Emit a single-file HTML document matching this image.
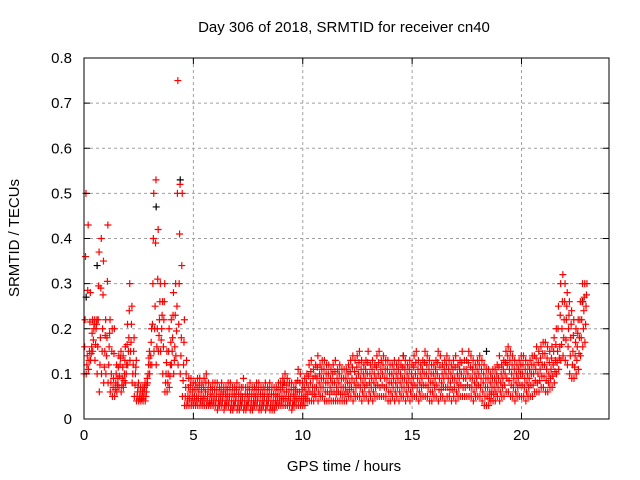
<!DOCTYPE html>
<html><head><meta charset="utf-8"><style>
body{margin:0;background:#fff;}
svg{display:block;font-family:"Liberation Sans",sans-serif;}
</style></head><body>
<svg id="chart" width="640" height="480">
<text x="344" y="32" text-anchor="middle" font-size="15">Day 306 of 2018, SRMTID for receiver cn40</text>
<text x="344" y="471" text-anchor="middle" font-size="15">GPS time / hours</text>
<text transform="translate(19,238) rotate(-90)" text-anchor="middle" font-size="15">SRMTID / TECUs</text>
<g id="grid"></g><g id="marks"></g><g id="axes"></g>
</svg>
<script>
const xTicks=[0,5,10,15,20];
const yTicks=[0,0.1,0.2,0.3,0.4,0.5,0.6,0.7,0.8];
const yTickLabels=["0","0.1","0.2","0.3","0.4","0.5","0.6","0.7","0.8"];
const tStart=0, tStep=0.1;
const midVals=[0.22,0.14,0.15,0.16,0.2,0.2,0.22,0.18,0.2,0.15,
0.18,0.16,0.1,0.09,0.08,0.09,0.12,0.09,0.1,0.12,
0.18,0.17,0.12,0.1,0.06,0.05,0.05,0.06,0.06,0.12,
0.14,0.3,0.25,0.2,0.22,0.2,0.22,0.1,0.1,0.12,
0.18,0.16,0.25,0.3,0.18,0.12,0.07,0.05,0.06,0.05,
0.05,0.05,0.06,0.05,0.05,0.06,0.05,0.04,0.05,0.05,
0.05,0.04,0.05,0.05,0.04,0.05,0.05,0.04,0.04,0.05,
0.04,0.04,0.05,0.04,0.04,0.05,0.04,0.04,0.05,0.05,
0.04,0.04,0.05,0.04,0.05,0.04,0.04,0.04,0.05,0.05,
0.05,0.06,0.06,0.05,0.05,0.04,0.05,0.06,0.06,0.05,
0.05,0.06,0.07,0.08,0.07,0.07,0.09,0.08,0.09,0.09,
0.08,0.08,0.07,0.08,0.08,0.07,0.08,0.07,0.07,0.07,
0.08,0.08,0.09,0.08,0.09,0.1,0.09,0.08,0.09,0.1,
0.08,0.09,0.08,0.09,0.1,0.09,0.1,0.09,0.09,0.08,
0.08,0.09,0.08,0.09,0.08,0.09,0.09,0.08,0.09,0.08,
0.09,0.1,0.09,0.08,0.09,0.1,0.1,0.09,0.08,0.08,
0.09,0.1,0.09,0.08,0.09,0.1,0.09,0.08,0.09,0.09,
0.08,0.09,0.1,0.09,0.09,0.1,0.09,0.09,0.08,0.09,
0.1,0.09,0.08,0.07,0.07,0.06,0.07,0.07,0.08,0.09,
0.08,0.09,0.1,0.12,0.11,0.1,0.09,0.08,0.09,0.1,
0.1,0.09,0.08,0.09,0.1,0.1,0.11,0.1,0.11,0.12,
0.12,0.11,0.1,0.11,0.12,0.13,0.15,0.16,0.2,0.22,
0.22,0.2,0.18,0.15,0.14,0.16,0.18,0.22,0.24,0.25];
const hiVals=[0.5,0.43,0.28,0.22,0.22,0.22,0.37,0.4,0.35,0.22,
0.43,0.22,0.2,0.2,0.12,0.14,0.15,0.14,0.16,0.21,
0.3,0.25,0.18,0.13,0.08,0.07,0.07,0.08,0.09,0.15,
0.2,0.5,0.53,0.42,0.3,0.26,0.3,0.15,0.2,0.22,
0.28,0.3,0.75,0.52,0.5,0.22,0.13,0.09,0.09,0.08,
0.08,0.09,0.09,0.08,0.09,0.1,0.08,0.07,0.08,0.08,
0.08,0.07,0.08,0.07,0.07,0.08,0.08,0.07,0.07,0.08,
0.07,0.07,0.09,0.07,0.07,0.08,0.07,0.07,0.08,0.08,
0.07,0.07,0.08,0.07,0.08,0.07,0.07,0.07,0.08,0.08,
0.09,0.1,0.09,0.08,0.08,0.07,0.08,0.11,0.1,0.08,
0.09,0.1,0.12,0.13,0.11,0.12,0.14,0.12,0.13,0.13,
0.12,0.12,0.11,0.12,0.13,0.11,0.12,0.11,0.11,0.11,
0.12,0.13,0.14,0.13,0.14,0.15,0.13,0.12,0.13,0.15,
0.12,0.13,0.12,0.14,0.15,0.13,0.14,0.13,0.13,0.12,
0.12,0.13,0.12,0.13,0.12,0.14,0.13,0.12,0.13,0.12,
0.14,0.15,0.13,0.12,0.13,0.15,0.14,0.13,0.12,0.12,
0.13,0.15,0.14,0.12,0.13,0.14,0.13,0.12,0.13,0.14,
0.12,0.13,0.15,0.13,0.13,0.15,0.14,0.13,0.12,0.13,
0.14,0.13,0.12,0.11,0.11,0.1,0.11,0.11,0.12,0.14,
0.12,0.13,0.15,0.16,0.15,0.14,0.13,0.12,0.13,0.14,
0.14,0.13,0.12,0.13,0.14,0.14,0.16,0.15,0.16,0.17,
0.17,0.16,0.15,0.16,0.18,0.2,0.25,0.3,0.32,0.3,
0.28,0.26,0.24,0.22,0.2,0.22,0.26,0.3,0.3,0.3];
const loVals=[0.1,0.1,0.11,0.13,0.15,0.13,0.1,0.06,0.1,0.08,
0.1,0.08,0.06,0.05,0.05,0.06,0.07,0.06,0.07,0.08,
0.12,0.13,0.08,0.05,0.04,0.04,0.04,0.04,0.04,0.08,
0.1,0.12,0.15,0.12,0.15,0.15,0.1,0.06,0.06,0.07,
0.12,0.1,0.14,0.12,0.1,0.05,0.03,0.03,0.03,0.03,
0.03,0.03,0.03,0.03,0.03,0.03,0.03,0.03,0.03,0.03,
0.03,0.02,0.03,0.03,0.02,0.03,0.03,0.02,0.02,0.03,
0.02,0.02,0.03,0.02,0.02,0.03,0.02,0.02,0.03,0.03,
0.02,0.02,0.03,0.02,0.03,0.02,0.02,0.02,0.03,0.03,
0.03,0.03,0.03,0.03,0.03,0.02,0.03,0.03,0.03,0.03,
0.03,0.03,0.04,0.04,0.04,0.04,0.05,0.04,0.05,0.05,
0.04,0.04,0.04,0.04,0.04,0.04,0.04,0.04,0.04,0.04,
0.04,0.05,0.05,0.04,0.05,0.05,0.05,0.04,0.05,0.05,
0.04,0.05,0.04,0.05,0.05,0.05,0.05,0.05,0.05,0.04,
0.04,0.05,0.04,0.05,0.04,0.05,0.05,0.04,0.05,0.04,
0.05,0.05,0.05,0.04,0.05,0.05,0.05,0.05,0.04,0.04,
0.05,0.05,0.04,0.05,0.05,0.04,0.05,0.05,0.04,0.05,
0.04,0.05,0.05,0.05,0.05,0.05,0.05,0.05,0.04,0.05,
0.05,0.05,0.04,0.03,0.03,0.03,0.04,0.04,0.04,0.05,
0.04,0.05,0.05,0.06,0.06,0.05,0.05,0.04,0.05,0.05,
0.05,0.05,0.04,0.05,0.05,0.05,0.06,0.06,0.06,0.07,
0.07,0.06,0.06,0.07,0.07,0.08,0.1,0.11,0.13,0.14,
0.13,0.12,0.1,0.09,0.09,0.1,0.11,0.14,0.16,0.17];
const blackTimes=[0.1,0.6,3.3,4.4,9.1,14.6,18.4,22.8];
const blackVals=[0.27,0.34,0.47,0.53,0.08,0.14,0.15,0.26];

const X0=84,X1=609,Y0=419,Y1=58,XMAX=24,YMAX=0.8;
const xs=t=>X0+(t/XMAX)*(X1-X0);
const ys=v=>Y0-(v/YMAX)*(Y0-Y1);
const NS="http://www.w3.org/2000/svg";
function mk(tag,attrs,parent){const e=document.createElementNS(NS,tag);for(const k in attrs)e.setAttribute(k,attrs[k]);parent.appendChild(e);return e;}
const grid=document.getElementById('grid'),axes=document.getElementById('axes'),marks=document.getElementById('marks');
xTicks.forEach(t=>{
  const x=xs(t);
  if(t>0){const g=mk('line',{x1:x,x2:x,y1:Y1,y2:Y0,stroke:'#a0a0a0','stroke-dasharray':'3,3'},grid);
  
  }
  mk('line',{x1:x,x2:x,y1:Y0,y2:Y0-6,stroke:'#000'},axes);
  mk('line',{x1:x,x2:x,y1:Y1,y2:Y1+6,stroke:'#000'},axes);
  const l=mk('text',{x:x,y:Y0+21,'text-anchor':'middle','font-size':15},axes);l.textContent=t;
  
  
});
yTicks.forEach((v,i)=>{
  const y=ys(v);
  if(v>0&&v<YMAX){const g=mk('line',{x1:X0,x2:X1,y1:y,y2:y,stroke:'#a0a0a0','stroke-dasharray':'3,3'},grid);
  
  }
  mk('line',{x1:X0,x2:X0+6,y1:y,y2:y,stroke:'#000'},axes);
  mk('line',{x1:X1,x2:X1-6,y1:y,y2:y,stroke:'#000'},axes);
  const l=mk('text',{x:X0-12,y:y+5,'text-anchor':'end','font-size':15},axes);l.textContent=yTickLabels[i];
  
  
});
const frame=mk('rect',{x:X0,y:Y1,width:X1-X0,height:Y0-Y1,fill:'none',stroke:'#000'},axes);


function plus(t,v,c){
  const x=xs(t),y=ys(v);
  const p=mk('path',{d:`M${x-3.5},${y}h7M${x},${y-3.5}v7`,stroke:c,'stroke-width':1.2,fill:'none'},marks);
  
  
}
blackTimes.forEach((t,i)=>plus(t,blackVals[i],'#000'));
midVals.forEach((v,i)=>{
  const t=tStart+i*tStep;
  const hi=hiVals[i],lo=loVals[i];
  plus(t,lo,'#f00');
  plus(t+0.03,(lo+v)/2,'#f00');
  plus(t+0.05,v,'#f00');
  plus(t+0.07,(v+hi)/2,'#f00');
  plus(t+0.09,hi,'#f00');
});
</script>
</body></html>
